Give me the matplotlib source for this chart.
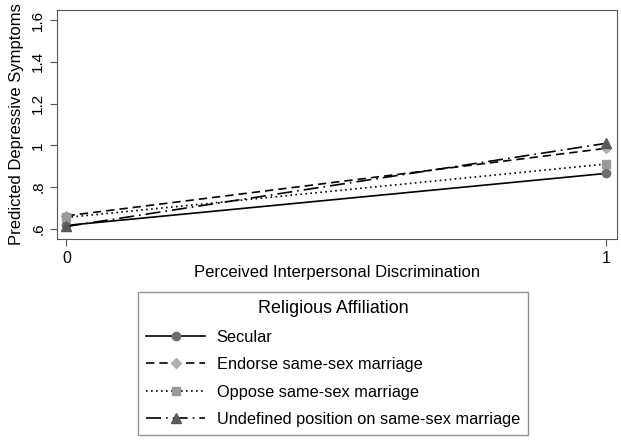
import matplotlib.pyplot as plt

plt.rcParams['font.family'] = ['Liberation Sans', 'DejaVu Sans']

x = [0, 1]
secular = [0.617, 0.866]
endorse = [0.663, 0.986]
oppose = [0.655, 0.911]
undefined = [0.612, 1.010]

labels = ["Secular", "Endorse same-sex marriage", "Oppose same-sex marriage",
          "Undefined position on same-sex marriage"]
yticks = [0.6, 0.8, 1.0, 1.2, 1.4, 1.6]
yticklabels = [".6", ".8", "1", "1.2", "1.4", "1.6"]

fig = plt.figure(figsize=(6.21, 4.43), dpi=100)
ax = fig.add_axes([57 / 621, 1 - 239 / 443, 560 / 621, 229 / 443])

ax.plot(x, secular, '-', color='black', lw=1.2, marker='o', ms=6,
        mfc='#6e6e6e', mec='#6e6e6e', label=labels[0])
ax.plot(x, endorse, color='black', lw=1.2, ls=(0, (5, 3)), marker='D', ms=5.5,
        mfc='#b0b0b0', mec='#b0b0b0', label=labels[1])
ax.plot(x, oppose, color='black', lw=1.2, ls=(0, (1, 2)), marker='s', ms=5.5,
        mfc='#9a9a9a', mec='#9a9a9a', label=labels[2])
ax.plot(x, undefined, color='black', lw=1.2, ls=(0, (9, 3, 1, 3)), marker='^', ms=6.5,
        mfc='#5a5a5a', mec='#5a5a5a', label=labels[3])

ax.set_xlim(-0.0176, 1.02)
ax.set_ylim(0.552, 1.648)
ax.set_xticks([0, 1])
ax.set_xticklabels(["0", "1"], fontsize=11.5)
ax.set_yticks(yticks)
ax.set_yticklabels(yticklabels, fontsize=11, rotation=90, va='center')
ax.tick_params(direction='out', length=5, width=0.8, color='#555555')
for s in ax.spines.values():
    s.set_color('#555555')
    s.set_linewidth(0.8)

ax.set_xlabel("Perceived Interpersonal Discrimination", fontsize=12, labelpad=-0.5)
ax.set_ylabel("Predicted Depressive Symptoms", fontsize=12, labelpad=5)

leg = fig.legend(loc='upper left', bbox_to_anchor=(138 / 621, 1 - 292 / 443),
                 title="Religious Affiliation", fontsize=11.8, title_fontsize=12.9,
                 frameon=True, fancybox=False, edgecolor='#777777',
                 handlelength=3.6, handletextpad=0.7, borderpad=0.5,
                 borderaxespad=0, labelspacing=0.76)
leg.get_frame().set_linewidth(1.0)

fig.savefig("out.png", dpi=100)
